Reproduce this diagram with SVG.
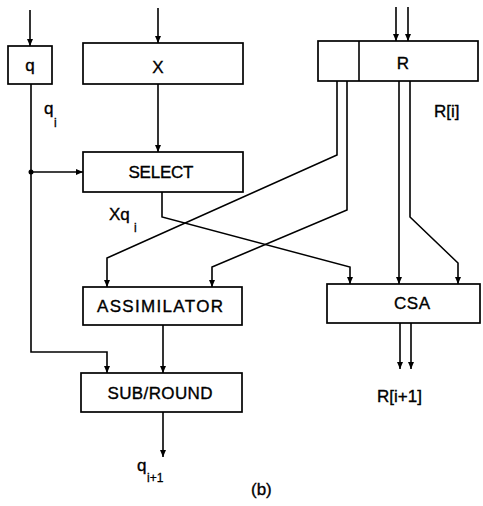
<svg xmlns="http://www.w3.org/2000/svg" width="483" height="506" viewBox="0 0 483 506">
<style>
.box{fill:#fff;stroke:#000;stroke-width:1.7}
.ln{fill:none;stroke:#000;stroke-width:1.6}
.t{font-family:"Liberation Sans",Arial,sans-serif;font-size:17px;fill:#000;stroke:#000;stroke-width:0.35}
.c{text-anchor:middle}
.s{font-family:"Liberation Sans",Arial,sans-serif;font-size:12px;fill:#000;stroke:#000;stroke-width:0.3}
</style>
<defs>
<marker id="ah" markerUnits="userSpaceOnUse" markerWidth="8" markerHeight="7" refX="7" refY="3" orient="auto">
<path d="M0,0 L7,3 L0,6 z" fill="#000"/>
</marker>
</defs>
<g id="connectors" class="ln" marker-end="url(#ah)">
<path d="M30,10 V46"/>
<path d="M158,8 V43"/>
<path d="M396,7 V41"/>
<path d="M408,7 V41"/>
<path d="M158,84 V152"/>
<path d="M31,84 V352 H107 V373"/>
<path d="M31,172 H83"/>
<path d="M162,192 V217 L350,267 V284"/>
<path d="M337,81 V155 L107,258 V287"/>
<path d="M347,81 V210 L212,267 V287"/>
<path d="M399,81 V284"/>
<path d="M410,81 V217 L458,263 V284"/>
<path d="M163,325 V373"/>
<path d="M163,412 V457"/>
<path d="M400,323 V369"/>
<path d="M411,323 V369"/>
</g>
<circle cx="31" cy="172" r="2.5" fill="#000"/>
<g id="q"><rect class="box" x="8" y="46" width="44" height="38"/><text class="t c" x="30" y="71">q</text></g>
<g id="X"><rect class="box" x="83" y="43" width="160" height="41"/><text class="t c" x="158" y="73">X</text></g>
<g id="R"><rect class="box" x="318" y="41" width="160" height="40"/><line class="ln" x1="359" y1="41" x2="359" y2="81"/><text class="t c" x="403" y="69">R</text></g>
<g id="SELECT"><rect class="box" x="83" y="152" width="160" height="40"/><text class="t c" x="161" y="178" textLength="65">SELECT</text></g>
<g id="ASSIMILATOR"><rect class="box" x="83" y="287" width="159" height="38"/><text class="t c" x="160" y="312" textLength="126">ASSIMILATOR</text></g>
<g id="CSA"><rect class="box" x="327" y="284" width="153" height="39"/><text class="t c" x="412" y="309" textLength="36">CSA</text></g>
<g id="SUBROUND"><rect class="box" x="81" y="373" width="161" height="39"/><text class="t c" x="160" y="399" textLength="105">SUB/ROUND</text></g>
<g id="labels">
<text class="t" x="44" y="114">q</text><text class="s" x="54" y="127">i</text>
<text class="t" x="109" y="220">Xq</text><text class="s" x="134" y="232">i</text>
<text class="t" x="434" y="117">R[i]</text>
<text class="t" x="377" y="402">R[i+1]</text>
<text class="t" x="137" y="471">q</text><text class="s" x="147" y="482">i+1</text>
<text class="t" x="251" y="495">(b)</text>
</g>
</svg>
